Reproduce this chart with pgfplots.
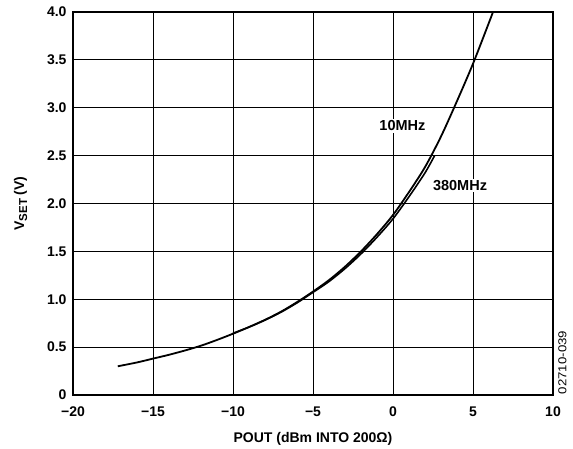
\documentclass[border=0pt]{standalone}
\usepackage{pgfplots}
\pgfplotsset{compat=1.18}
\usepackage{fontspec}
\setmainfont{Liberation Sans}
\begin{document}
\begin{tikzpicture}
\begin{axis}[
  scale only axis,
  width=480pt, height=383pt,
  xmin=-20, xmax=10, ymin=0, ymax=4,
  xtick={-20,-15,-10,-5,0,5,10},
  xticklabels={−20,−15,−10,−5,0,5,10},
  ytick={0,0.5,1,1.5,2,2.5,3,3.5,4},
  yticklabels={0,0.5,1.0,1.5,2.0,2.5,3.0,3.5,4.0},
  grid=major,
  major grid style={black, line width=0.9pt},
  major tick length=0pt,
  axis line style={black, line width=1.3pt},
  tick label style={font=\fontsize{14}{16}\selectfont\bfseries},
  xticklabel style={anchor=base, yshift=-21.5pt},
  yticklabel style={anchor=east, xshift=-3pt},
  label style={font=\fontsize{14}{16}\selectfont\bfseries},
  xlabel={POUT (dBm INTO 200Ω)},
  ylabel={V\raisebox{-3pt}{\fontsize{11.5}{12}\selectfont SET} (V)},
  xlabel style={at={(axis description cs:0.5,-0.1245)}, anchor=base},
  ylabel style={at={(axis description cs:-0.102,0.5)}, anchor=base},
  clip=false,
]
\addplot[black, line width=1.8pt, smooth] coordinates {
(-17.2,0.30) (-16,0.34) (-15,0.38) (-14,0.42) (-13,0.465) (-12,0.515) (-11,0.575)
(-10,0.64) (-9,0.71) (-8,0.785) (-7,0.87) (-6,0.97) (-5,1.08) (-4,1.20) (-3,1.34)
(-2,1.50) (-1,1.68) (0,1.88) (1,2.12) (2,2.38) (3,2.70) (4,3.07) (5,3.46) (6,3.89) (6.25,4.0)
};
\addplot[black, line width=1.6pt, smooth] coordinates {
(-10,0.645) (-9,0.709) (-8,0.782) (-7,0.865) (-6,0.962) (-5,1.072) (-4,1.185) (-3,1.32)
(-2,1.474) (-1,1.648) (0,1.84) (1,2.071) (2,2.32) (2.6,2.50)
};
\node[fill=white, inner sep=1.5pt, font=\fontsize{14.5}{16}\selectfont\bfseries] at (axis cs:0.59,2.81) {10MHz};
\node[fill=white, inner sep=1.5pt, font=\fontsize{14.5}{16}\selectfont\bfseries] at (axis cs:4.19,2.19) {380MHz};
\node[rotate=90, inner sep=0pt, font=\fontsize{11.5}{12}\selectfont] at (axis cs:10.59,0.34) {\scalebox{1.15}[1]{02710-039}};
\end{axis}
\path ([shift={(-73pt,-54pt)}]current axis.south west) rectangle ([shift={(20pt,12pt)}]current axis.north east);
\end{tikzpicture}
\end{document}
